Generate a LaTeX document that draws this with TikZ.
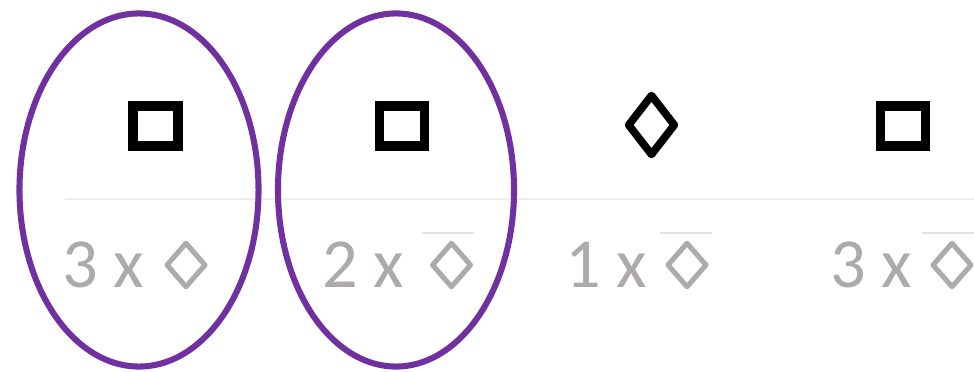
\documentclass[tikz,border=0pt]{standalone}
\usepackage{fontspec}
\setmainfont{Carlito}
\usetikzlibrary{shapes.geometric}
\definecolor{grppurple}{HTML}{7030A0}
\definecolor{lblgrey}{HTML}{AEAAAA}
\definecolor{dgrey}{HTML}{ABABAB}
\definecolor{rulegrey}{HTML}{EEEEEE}
\definecolor{overgrey}{HTML}{E2E2E2}
\tikzset{
  px/.style={x=0.025cm,y=-0.025cm},
  grp/.style={draw=grppurple,line width=4.3pt},
  sqbox/.style={draw=black,rectangle,line width=7pt,minimum width=1.125cm,minimum height=1.0cm,inner sep=0pt,line join=miter},
  bdia/.style={draw=black,diamond,line width=5.5pt,minimum width=1.22cm,minimum height=1.55cm,inner sep=0pt,line join=round},
  gdia/.style={draw=dgrey,diamond,line width=3.6pt,minimum width=1.0cm,minimum height=1.14cm,inner sep=0pt,line join=round},
  lbl/.style={text=lblgrey,inner sep=0pt,anchor=base west,font=\fontsize{50}{60}\selectfont},
  rulel/.style={draw=rulegrey,line width=0.8pt},
  overl/.style={draw=overgrey,line width=1.1pt}
}
\begin{document}
\begin{tikzpicture}[px]
\useasboundingbox (0,0) rectangle (974,372);
% faint rule
\coordinate (rl) at (65,199);
\coordinate (rr) at (974,199);
\draw[rulel] (rl) -- (rr);
% top symbols
\node[sqbox] (s1) at (155.5,126) {};
\node[sqbox] (s2) at (402,126) {};
\node[bdia] (d3) at (651.5,125) {};
\node[sqbox] (s4) at (903,126) {};
% labels
\node[lbl] (l1) at (62,288) {3 x};
\node[lbl] (l2) at (322,288) {2 x};
\node[lbl] (l3) at (565,288) {1 x};
\node[lbl] (l4) at (830,288) {3 x};
% grey diamonds
\node[gdia] (g1) at (186,265) {};
\node[gdia] (g2) at (451.5,265) {};
\node[gdia] (g3) at (687,265) {};
\node[gdia] (g4) at (952,265) {};
% overlines
\coordinate (o2a) at (422,233); \coordinate (o2b) at (474,233);
\coordinate (o3a) at (660,233); \coordinate (o3b) at (712,233);
\coordinate (o4a) at (922,233); \coordinate (o4b) at (974,233);
\draw[overl] (o2a) -- (o2b);
\draw[overl] (o3a) -- (o3b);
\draw[overl] (o4a) -- (o4b);
% purple ellipses
\node[grp,ellipse,minimum width=5.975cm,minimum height=8.825cm,inner sep=0pt] (e1) at (139,190) {};
\node[grp,ellipse,minimum width=5.9cm,minimum height=8.825cm,inner sep=0pt] (e2) at (396,190) {};
\end{tikzpicture}
\end{document}
